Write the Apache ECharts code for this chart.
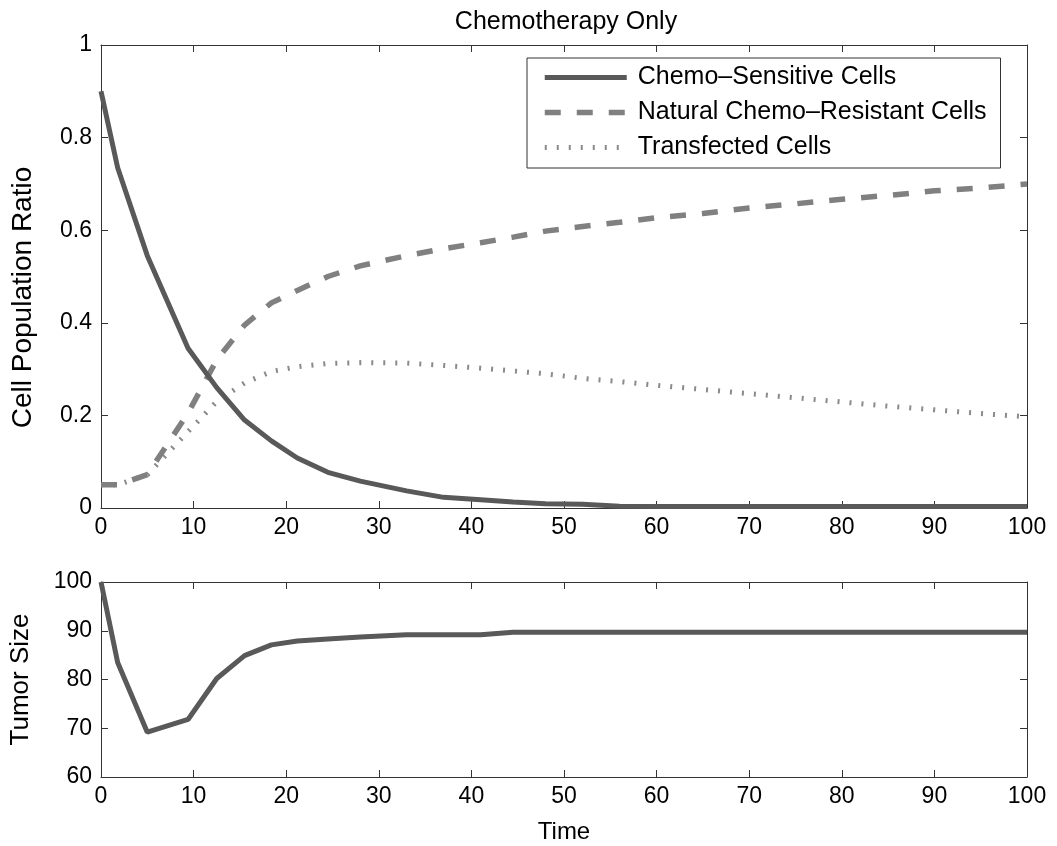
<!DOCTYPE html>
<html>
<head>
<meta charset="utf-8">
<script src="https://cdn.jsdelivr.net/npm/echarts@6/dist/echarts.min.js"></script>
<style>
html,body{margin:0;padding:0;background:#fff;}
#c{width:1057px;height:846px;}
</style>
</head>
<body>
<div id="c"></div>
<script>
var times = [0, 1.8, 5, 9.4, 12.5, 15.5, 18.4, 21.2, 24.5, 28, 33, 37, 41, 44.5, 48, 52, 56, 60, 65, 70, 75, 80, 85, 90, 95, 100];
var sensitive = [0.9, 0.735, 0.545, 0.345, 0.26, 0.19, 0.145, 0.108, 0.077, 0.058, 0.037, 0.023, 0.018, 0.013, 0.009, 0.008, 0.004, 0.003, 0.003, 0.003, 0.003, 0.003, 0.003, 0.003, 0.003, 0.003];
var resistant = [0.05, 0.05, 0.072, 0.205, 0.32, 0.395, 0.443, 0.47, 0.5, 0.523, 0.545, 0.56, 0.573, 0.585, 0.598, 0.608, 0.617, 0.627, 0.636, 0.648, 0.657, 0.667, 0.675, 0.685, 0.691, 0.70];
var transfected = [0.05, 0.05, 0.072, 0.165, 0.23, 0.27, 0.295, 0.305, 0.312, 0.314, 0.313, 0.308, 0.302, 0.296, 0.29, 0.28, 0.273, 0.265, 0.256, 0.247, 0.238, 0.229, 0.22, 0.212, 0.204, 0.197];
var tumorTimes = [0, 1.8, 5, 9.4, 12.5, 15.5, 18.4, 21.2, 24.5, 28, 33, 37, 41, 44.5, 48, 60, 70, 80, 90, 100];
var tumor = [100, 83.5, 69.2, 71.8, 80.2, 84.9, 87.1, 87.9, 88.3, 88.7, 89.2, 89.2, 89.2, 89.7, 89.7, 89.7, 89.7, 89.7, 89.7, 89.7];
var seriesNames = ['Chemo\u2013Sensitive Cells', 'Natural Chemo\u2013Resistant Cells', 'Transfected Cells'];
var titleText = 'Chemotherapy Only';

function pairs(xs, ys) { return xs.map(function (x, i) { return [x, ys[i]]; }); }

var FONT = 'Liberation Sans, Arial, Helvetica, sans-serif';
var axisLineStyle = { color: '#333', width: 1 };
function xAx(grid, pos, showLabels, name) {
  return {
    type: 'value', gridIndex: grid, position: pos, min: 0, max: 100, interval: 10,
    axisLine: { show: true, onZero: false, lineStyle: axisLineStyle },
    axisTick: { show: true, inside: true, length: 7, lineStyle: axisLineStyle },
    axisLabel: { show: showLabels, fontSize: 23, color: '#000', fontFamily: FONT, margin: 8 },
    splitLine: { show: false },
    name: name || '', nameLocation: 'middle', nameGap: 43,
    nameTextStyle: { fontSize: 24, color: '#000', fontFamily: FONT }
  };
}
function yAx(grid, pos, min, max, interval, showLabels, name, nameSize, nameGap, namePad) {
  return {
    type: 'value', gridIndex: grid, position: pos, min: min, max: max, interval: interval,
    axisLine: { show: true, onZero: false, lineStyle: axisLineStyle },
    axisTick: { show: true, inside: true, length: 7, lineStyle: axisLineStyle },
    axisLabel: { show: showLabels, fontSize: 23, color: '#000', fontFamily: FONT, margin: 9 },
    splitLine: { show: false },
    name: name || '', nameLocation: 'middle', nameGap: nameGap || 62,
    nameTextStyle: { fontSize: nameSize || 26, color: '#000', fontFamily: FONT, padding: namePad || 0 }
  };
}

var chart = echarts.init(document.getElementById('c'), null, { renderer: 'canvas' });
chart.setOption({
  backgroundColor: '#fff',
  animation: false,
  title: {
    text: titleText, left: 561, top: 5, textAlign: 'center',
    textStyle: { fontSize: 25, fontWeight: 'normal', color: '#000', fontFamily: FONT }
  },
  legend: {
    data: seriesNames, orient: 'vertical', left: 527, top: 58,
    width: 473,
    backgroundColor: '#fff', borderColor: '#333', borderWidth: 1,
    padding: [7, 14, 8, 15], itemGap: 10, itemWidth: 82, itemHeight: 14,
    textStyle: { fontSize: 25, color: '#000', fontFamily: FONT, padding: [0, 0, 0, 6] },
    itemStyle: { opacity: 0 },
    lineStyle: { width: 'inherit', type: 'inherit' }
  },
  grid: [
    { left: 101, right: 30, top: 45, height: 463 },
    { left: 101, right: 30, top: 582, height: 195 }
  ],
  xAxis: [
    xAx(0, 'bottom', true),
    xAx(0, 'top', false),
    xAx(1, 'bottom', true, 'Time'),
    xAx(1, 'top', false)
  ],
  yAxis: [
    yAx(0, 'left', 0, 1, 0.2, true, 'Cell Population Ratio', 28, 64, [0, 42, 0, 0]),
    yAx(0, 'right', 0, 1, 0.2, false),
    yAx(1, 'left', 60, 100, 10, true, 'Tumor Size', 26, 67),
    yAx(1, 'right', 60, 100, 10, false)
  ],
  series: [
    {
      name: seriesNames[0], type: 'line', xAxisIndex: 0, yAxisIndex: 0,
      data: pairs(times, sensitive), symbol: 'none', z: 4,
      lineStyle: { color: '#595959', width: 5, type: 'solid' }, itemStyle: { color: '#595959' }
    },
    {
      name: seriesNames[1], type: 'line', xAxisIndex: 0, yAxisIndex: 0,
      data: pairs(times, resistant), symbol: 'none', z: 3,
      lineStyle: { color: '#808080', width: 5.5, type: [16, 16] }, itemStyle: { color: '#808080' }
    },
    {
      name: seriesNames[2], type: 'line', xAxisIndex: 0, yAxisIndex: 0,
      data: pairs(times, transfected), symbol: 'none', z: 2,
      lineStyle: { color: '#8a8a8a', width: 5, type: [2, 10] }, itemStyle: { color: '#8a8a8a' }
    },
    {
      name: 'Tumor Size', type: 'line', xAxisIndex: 2, yAxisIndex: 2,
      data: pairs(tumorTimes, tumor), symbol: 'none',
      lineStyle: { color: '#595959', width: 5 }, itemStyle: { color: '#595959' }
    }
  ]
});
</script>
</body>
</html>
